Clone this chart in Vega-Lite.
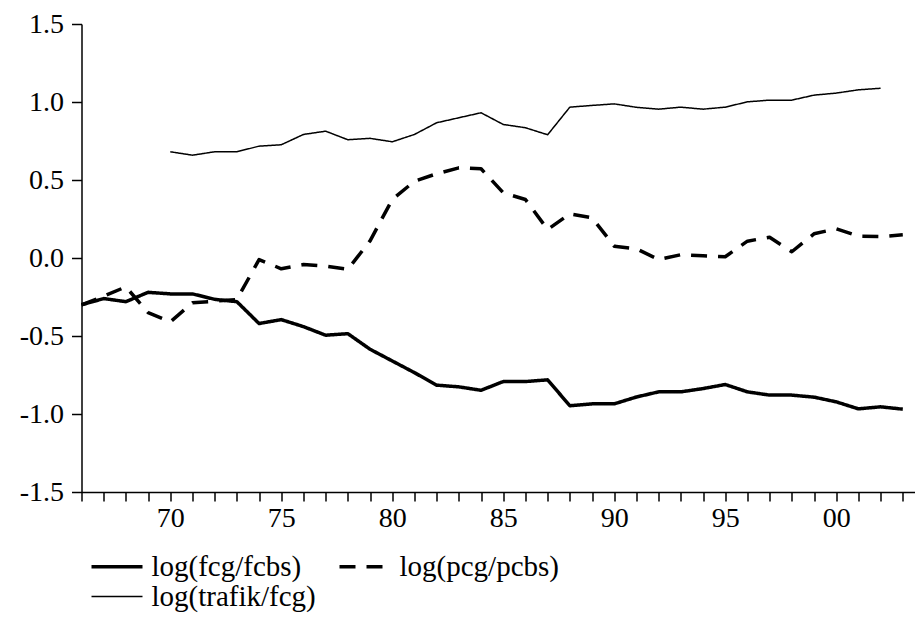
{
  "$schema": "https://vega.github.io/schema/vega-lite/v6.json",
  "width": 833.5,
  "height": 468,
  "autosize": {"type": "none"},
  "padding": {"left": 81.5, "top": 24, "right": 0, "bottom": 125},
  "background": "white",
  "config": {
    "view": {"stroke": null},
    "font": "Liberation Serif",
    "axis": {
      "grid": false,
      "title": null,
      "domainColor": "black",
      "domainWidth": 1.5,
      "tickColor": "black",
      "tickWidth": 1.5,
      "labelColor": "black",
      "labelFont": "Liberation Serif",
      "labelFontSize": 28,
      "labelOverlap": false,
      "labelFlush": false
    },
    "legend": {
      "orient": "none",
      "direction": "horizontal",
      "columns": 2,
      "symbolType": "stroke",
      "symbolSize": 2601,
      "symbolStrokeColor": "black",
      "symbolStrokeWidth": 3.5,
      "labelFont": "Liberation Serif",
      "labelFontSize": 29,
      "labelColor": "black",
      "labelOffset": 20,
      "labelLimit": 500,
      "columnPadding": 16,
      "rowPadding": -10,
      "padding": 0
    }
  },
  "data": {
    "values": [
      {"year": 1966, "series": "log(fcg/fcbs)", "value": -0.30},
      {"year": 1967, "series": "log(fcg/fcbs)", "value": -0.26},
      {"year": 1968, "series": "log(fcg/fcbs)", "value": -0.28},
      {"year": 1969, "series": "log(fcg/fcbs)", "value": -0.22},
      {"year": 1970, "series": "log(fcg/fcbs)", "value": -0.23},
      {"year": 1971, "series": "log(fcg/fcbs)", "value": -0.23},
      {"year": 1972, "series": "log(fcg/fcbs)", "value": -0.265},
      {"year": 1973, "series": "log(fcg/fcbs)", "value": -0.28},
      {"year": 1974, "series": "log(fcg/fcbs)", "value": -0.42},
      {"year": 1975, "series": "log(fcg/fcbs)", "value": -0.395},
      {"year": 1976, "series": "log(fcg/fcbs)", "value": -0.44},
      {"year": 1977, "series": "log(fcg/fcbs)", "value": -0.495},
      {"year": 1978, "series": "log(fcg/fcbs)", "value": -0.485},
      {"year": 1979, "series": "log(fcg/fcbs)", "value": -0.585},
      {"year": 1980, "series": "log(fcg/fcbs)", "value": -0.66},
      {"year": 1981, "series": "log(fcg/fcbs)", "value": -0.735},
      {"year": 1982, "series": "log(fcg/fcbs)", "value": -0.815},
      {"year": 1983, "series": "log(fcg/fcbs)", "value": -0.826},
      {"year": 1984, "series": "log(fcg/fcbs)", "value": -0.848},
      {"year": 1985, "series": "log(fcg/fcbs)", "value": -0.792},
      {"year": 1986, "series": "log(fcg/fcbs)", "value": -0.792},
      {"year": 1987, "series": "log(fcg/fcbs)", "value": -0.781},
      {"year": 1988, "series": "log(fcg/fcbs)", "value": -0.947},
      {"year": 1989, "series": "log(fcg/fcbs)", "value": -0.935},
      {"year": 1990, "series": "log(fcg/fcbs)", "value": -0.935},
      {"year": 1991, "series": "log(fcg/fcbs)", "value": -0.891},
      {"year": 1992, "series": "log(fcg/fcbs)", "value": -0.858},
      {"year": 1993, "series": "log(fcg/fcbs)", "value": -0.858},
      {"year": 1994, "series": "log(fcg/fcbs)", "value": -0.837},
      {"year": 1995, "series": "log(fcg/fcbs)", "value": -0.811},
      {"year": 1996, "series": "log(fcg/fcbs)", "value": -0.858},
      {"year": 1997, "series": "log(fcg/fcbs)", "value": -0.879},
      {"year": 1998, "series": "log(fcg/fcbs)", "value": -0.879},
      {"year": 1999, "series": "log(fcg/fcbs)", "value": -0.892},
      {"year": 2000, "series": "log(fcg/fcbs)", "value": -0.922},
      {"year": 2001, "series": "log(fcg/fcbs)", "value": -0.967},
      {"year": 2002, "series": "log(fcg/fcbs)", "value": -0.954},
      {"year": 2003, "series": "log(fcg/fcbs)", "value": -0.969},
      {"year": 1966, "series": "log(pcg/pcbs)", "value": -0.30},
      {"year": 1967, "series": "log(pcg/pcbs)", "value": -0.245},
      {"year": 1968, "series": "log(pcg/pcbs)", "value": -0.185},
      {"year": 1969, "series": "log(pcg/pcbs)", "value": -0.35},
      {"year": 1970, "series": "log(pcg/pcbs)", "value": -0.41},
      {"year": 1971, "series": "log(pcg/pcbs)", "value": -0.287},
      {"year": 1972, "series": "log(pcg/pcbs)", "value": -0.277},
      {"year": 1973, "series": "log(pcg/pcbs)", "value": -0.266},
      {"year": 1974, "series": "log(pcg/pcbs)", "value": -0.01},
      {"year": 1975, "series": "log(pcg/pcbs)", "value": -0.069},
      {"year": 1976, "series": "log(pcg/pcbs)", "value": -0.042},
      {"year": 1977, "series": "log(pcg/pcbs)", "value": -0.052},
      {"year": 1978, "series": "log(pcg/pcbs)", "value": -0.072},
      {"year": 1979, "series": "log(pcg/pcbs)", "value": 0.11},
      {"year": 1980, "series": "log(pcg/pcbs)", "value": 0.375},
      {"year": 1981, "series": "log(pcg/pcbs)", "value": 0.492},
      {"year": 1982, "series": "log(pcg/pcbs)", "value": 0.54},
      {"year": 1983, "series": "log(pcg/pcbs)", "value": 0.578},
      {"year": 1984, "series": "log(pcg/pcbs)", "value": 0.572},
      {"year": 1985, "series": "log(pcg/pcbs)", "value": 0.418},
      {"year": 1986, "series": "log(pcg/pcbs)", "value": 0.375},
      {"year": 1987, "series": "log(pcg/pcbs)", "value": 0.183},
      {"year": 1988, "series": "log(pcg/pcbs)", "value": 0.283},
      {"year": 1989, "series": "log(pcg/pcbs)", "value": 0.258},
      {"year": 1990, "series": "log(pcg/pcbs)", "value": 0.076},
      {"year": 1991, "series": "log(pcg/pcbs)", "value": 0.059},
      {"year": 1992, "series": "log(pcg/pcbs)", "value": -0.01},
      {"year": 1993, "series": "log(pcg/pcbs)", "value": 0.021},
      {"year": 1994, "series": "log(pcg/pcbs)", "value": 0.014},
      {"year": 1995, "series": "log(pcg/pcbs)", "value": 0.008},
      {"year": 1996, "series": "log(pcg/pcbs)", "value": 0.108},
      {"year": 1997, "series": "log(pcg/pcbs)", "value": 0.133},
      {"year": 1998, "series": "log(pcg/pcbs)", "value": 0.04},
      {"year": 1999, "series": "log(pcg/pcbs)", "value": 0.155},
      {"year": 2000, "series": "log(pcg/pcbs)", "value": 0.187},
      {"year": 2001, "series": "log(pcg/pcbs)", "value": 0.14},
      {"year": 2002, "series": "log(pcg/pcbs)", "value": 0.137},
      {"year": 2003, "series": "log(pcg/pcbs)", "value": 0.149},
      {"year": 1970, "series": "log(trafik/fcg)", "value": 0.681},
      {"year": 1971, "series": "log(trafik/fcg)", "value": 0.659},
      {"year": 1972, "series": "log(trafik/fcg)", "value": 0.681},
      {"year": 1973, "series": "log(trafik/fcg)", "value": 0.681},
      {"year": 1974, "series": "log(trafik/fcg)", "value": 0.717},
      {"year": 1975, "series": "log(trafik/fcg)", "value": 0.726},
      {"year": 1976, "series": "log(trafik/fcg)", "value": 0.792},
      {"year": 1977, "series": "log(trafik/fcg)", "value": 0.813},
      {"year": 1978, "series": "log(trafik/fcg)", "value": 0.758},
      {"year": 1979, "series": "log(trafik/fcg)", "value": 0.767},
      {"year": 1980, "series": "log(trafik/fcg)", "value": 0.745},
      {"year": 1981, "series": "log(trafik/fcg)", "value": 0.792},
      {"year": 1982, "series": "log(trafik/fcg)", "value": 0.867},
      {"year": 1983, "series": "log(trafik/fcg)", "value": 0.899},
      {"year": 1984, "series": "log(trafik/fcg)", "value": 0.931},
      {"year": 1985, "series": "log(trafik/fcg)", "value": 0.856},
      {"year": 1986, "series": "log(trafik/fcg)", "value": 0.835},
      {"year": 1987, "series": "log(trafik/fcg)", "value": 0.79},
      {"year": 1988, "series": "log(trafik/fcg)", "value": 0.967},
      {"year": 1989, "series": "log(trafik/fcg)", "value": 0.978},
      {"year": 1990, "series": "log(trafik/fcg)", "value": 0.988},
      {"year": 1991, "series": "log(trafik/fcg)", "value": 0.966},
      {"year": 1992, "series": "log(trafik/fcg)", "value": 0.954},
      {"year": 1993, "series": "log(trafik/fcg)", "value": 0.967},
      {"year": 1994, "series": "log(trafik/fcg)", "value": 0.954},
      {"year": 1995, "series": "log(trafik/fcg)", "value": 0.967},
      {"year": 1996, "series": "log(trafik/fcg)", "value": 1.001},
      {"year": 1997, "series": "log(trafik/fcg)", "value": 1.012},
      {"year": 1998, "series": "log(trafik/fcg)", "value": 1.012},
      {"year": 1999, "series": "log(trafik/fcg)", "value": 1.044},
      {"year": 2000, "series": "log(trafik/fcg)", "value": 1.057},
      {"year": 2001, "series": "log(trafik/fcg)", "value": 1.078},
      {"year": 2002, "series": "log(trafik/fcg)", "value": 1.088}
    ]
  },
  "encoding": {
    "x": {
      "field": "year",
      "type": "quantitative",
      "scale": {"domain": [1966, 2003.55], "nice": false, "zero": false},
      "axis": {
        "values": [1966, 1967, 1968, 1969, 1970, 1971, 1972, 1973, 1974, 1975, 1976, 1977, 1978, 1979, 1980, 1981, 1982, 1983, 1984, 1985, 1986, 1987, 1988, 1989, 1990, 1991, 1992, 1993, 1994, 1995, 1996, 1997, 1998, 1999, 2000, 2001, 2002, 2003],
        "labelExpr": "datum.value % 5 == 0 ? slice(toString(datum.value), 2) : ''",
        "tickSize": 9,
        "labelPadding": 3,
        "labelOverlap": false,
        "labelFlush": false,
        "labelBound": false
      }
    },
    "y": {
      "field": "value",
      "type": "quantitative",
      "scale": {"domain": [-1.5, 1.5], "nice": false, "zero": false},
      "axis": {
        "values": [-1.5, -1, -0.5, 0, 0.5, 1, 1.5],
        "labelExpr": "(datum.value < 0 ? '-' : '') + format(abs(datum.value), '.1f')",
        "tickSize": 10,
        "labelPadding": 8,
        "labelOverlap": false
      }
    },
    "strokeDash": {
      "field": "series",
      "type": "nominal",
      "scale": {
        "domain": ["log(fcg/fcbs)", "log(pcg/pcbs)", "log(trafik/fcg)"],
        "range": [[1, 0], [16, 11], [1, 0]]
      },
      "legend": {
        "title": null,
        "legendX": 21,
        "legendY": 528,
        "encode": {
          "symbols": {
            "update": {
              "strokeWidth": {"signal": "datum.value === 'log(trafik/fcg)' ? 1.5 : 3.5"}
            }
          }
        }
      }
    }
  },
  "layer": [
    {
      "transform": [{"filter": "datum.series !== 'log(trafik/fcg)'"}],
      "mark": {"type": "line", "color": "black", "strokeWidth": 3.5, "strokeJoin": "round"}
    },
    {
      "transform": [{"filter": "datum.series === 'log(trafik/fcg)'"}],
      "mark": {"type": "line", "color": "black", "strokeWidth": 1.5, "strokeJoin": "round"}
    },
    {
      "data": {"values": [{}]},
      "mark": {"type": "rule", "color": "black", "strokeWidth": 1.5},
      "encoding": {"x": {"datum": 2000.5}, "y": null, "strokeDash": null}
    }
  ]
}
